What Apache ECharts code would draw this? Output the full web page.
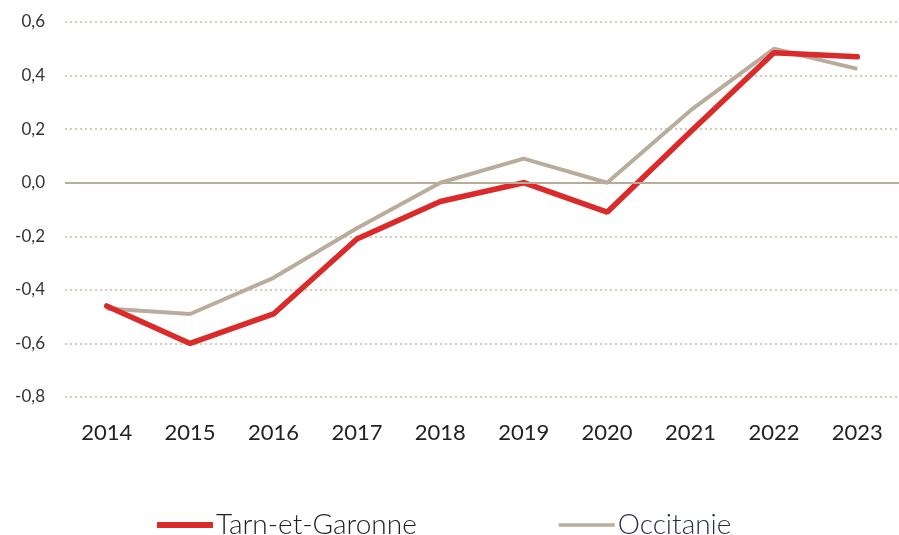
<!DOCTYPE html>
<html>
<head>
<meta charset="utf-8">
<script src="https://cdn.jsdelivr.net/npm/echarts@6/dist/echarts.min.js"></script>
<style>
  html, body { margin: 0; padding: 0; background: #fff; }
  #chart { width: 899px; height: 535px; }
</style>
</head>
<body>
<div id="chart"></div>
<script>
const years = ['2014', '2015', '2016', '2017', '2018', '2019', '2020', '2021', '2022', '2023'];
const tarnEtGaronne = [-0.46, -0.60, -0.49, -0.21, -0.07, 0.0, -0.11, 0.19, 0.485, 0.47];
const occitanie = [-0.47, -0.49, -0.355, -0.17, 0.0, 0.09, 0.0, 0.27, 0.50, 0.425];

const myChart = echarts.init(document.getElementById('chart'));
const font = 'Lato, "Open Sans", sans-serif';

myChart.setOption({
  animation: false,
  grid: { left: 65, right: 0, top: 22, height: 375 },
  legend: {
    top: 506,
    left: 152,
    itemGap: 142,
    itemWidth: 56,
    itemHeight: 6,
    icon: 'rect',
    textStyle: { fontFamily: font, fontSize: 28, fontWeight: 300, color: '#1e1e1e', padding: [0, 0, 0, -2] },
    data: [
      { name: 'Tarn-et-Garonne', itemStyle: { color: '#da2a29' } },
      { name: 'Occitanie', textStyle: { color: '#2b2d4e' }, itemStyle: { color: '#b9ac9c' }, icon: 'path://M0,0H10V0.6H0Z' }
    ]
  },
  xAxis: {
    type: 'category',
    data: years,
    axisLine: { show: false },
    axisTick: { show: false },
    axisLabel: { fontFamily: font, fontSize: 22, color: '#222', margin: 25 }
  },
  yAxis: {
    type: 'value',
    min: -0.8,
    max: 0.6,
    interval: 0.2,
    axisLabel: {
      fontFamily: font, fontSize: 17, color: '#333', margin: 20,
      formatter: v => v.toFixed(1).replace('.', ',')
    },
    splitLine: { lineStyle: { color: '#c9b9a4', type: [2, 3], width: 1.5 } }
  },
  series: [
    {
      name: 'Tarn-et-Garonne',
      type: 'line',
      data: tarnEtGaronne,
      symbol: 'none',
      z: 3,
      lineStyle: { color: '#da2a29', width: 5.5, cap: 'round' },
      itemStyle: { color: '#da2a29' },
      markLine: {
        silent: true,
        symbol: 'none',
        label: { show: false },
        lineStyle: { color: '#bcab94', type: 'solid', width: 2 },
        data: [{ yAxis: 0 }]
      }
    },
    {
      name: 'Occitanie',
      type: 'line',
      data: occitanie,
      symbol: 'none',
      z: 2,
      lineStyle: { color: '#b9ac9c', width: 4 },
      itemStyle: { color: '#b9ac9c' }
    }
  ]
});
</script>
</body>
</html>
